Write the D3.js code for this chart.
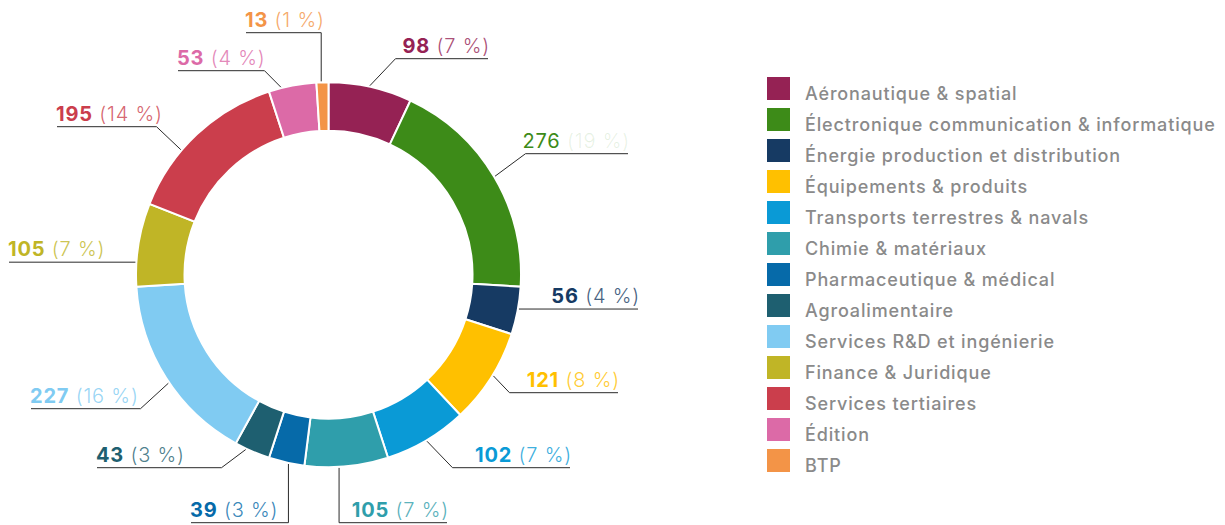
<!DOCTYPE html>
<html><head><meta charset="utf-8">
<script src="https://cdn.jsdelivr.net/npm/d3@7"></script>
<style>
html,body{margin:0;padding:0;background:#fff;}
svg{display:block;font-family:Inter,"Open Sans",sans-serif;}
</style></head>
<body>
<svg id="chart" width="1225" height="525"></svg>
<script>
const categories = ["Aéronautique & spatial","Électronique communication & informatique","Énergie production et distribution","Équipements & produits","Transports terrestres & navals","Chimie & matériaux","Pharmaceutique & médical","Agroalimentaire","Services R&D et ingénierie","Finance & Juridique","Services tertiaires","Édition","BTP"];
const counts = [98,276,56,121,102,105,39,43,227,105,195,53,13];
const percents = [7,19,4,8,7,7,3,3,16,7,14,4,1];
const colors = ["#952254","#3d8b18","#163a63","#ffc000","#0a9ad6","#2f9eab","#066aa9","#1e5f70","#80cbf2","#c0b526","#cb3e4c","#dc6aa7","#f39447"];

// label layout: t = position within slice for leader start, elbow offset from center ("v" = vertical), end x, side
const leaderLayout = [
  {t:0.49, ex:67, ey:-216, end:488, side:"r"},
  {t:0.5, ex:197, ey:-121, end:628, side:"r", faint:true},
  {t:0.46, ex:null, ey:null, end:638, side:"r"},
  {t:0.47, ex:181, ey:118, end:618, side:"r"},
  {t:0.5, ex:124, ey:193, end:570, side:"r"},
  {t:0.59, ex:"v", ey:248, end:447, side:"r"},
  {t:0.44, ex:"v", ey:248, end:191, side:"l"},
  {t:0.68, ex:-107, ey:193, end:97, side:"l"},
  {t:0.47, ex:-188, ey:134, end:31, side:"l"},
  {t:0.29, ex:null, ey:null, end:9, side:"l"},
  {t:0.37, ex:-172, ey:-148, end:57, side:"l"},
  {t:0.26, ex:-64, ey:-204, end:178, side:"l"},
  {t:0.4, ex:"v", ey:-242, end:246, side:"l"}
];

const svg = d3.select("#chart");
const cx = 328.5, cy = 274.7, rOuter = 192.5, rInner = 144;
const g = svg.append("g").attr("transform",`translate(${cx},${cy})`);

const pie = d3.pie().sort(null).value(d=>d)(percents);
const arc = d3.arc().innerRadius(rInner).outerRadius(rOuter);

g.selectAll("path.slice").data(pie).join("path")
  .attr("class","slice")
  .attr("d",arc)
  .attr("fill",(d,i)=>colors[i])
  .attr("stroke","#fff").attr("stroke-width",2);

// leaders and labels
pie.forEach((d,i)=>{
  const L = leaderLayout[i];
  const a = d.startAngle + (d.endAngle-d.startAngle)*L.t;
  const r0 = rOuter + 1;
  const sx = r0*Math.sin(a), sy = -r0*Math.cos(a);
  let pts = [[sx,sy]];
  let ly;
  if (L.ex === null) { ly = sy; }
  else if (L.ex === "v") { pts.push([sx, L.ey]); ly = L.ey; }
  else { pts.push([L.ex, L.ey]); ly = L.ey; }
  pts.push([L.end - cx, ly]);
  g.append("path")
    .attr("d", d3.line()(pts))
    .attr("fill","none").attr("stroke","#2a2a2a").attr("stroke-width",1);
  const t = g.append("text")
    .attr("x", L.end - cx + (L.side==="r"? 2 : -1))
    .attr("y", ly - 6)
    .attr("text-anchor", L.side==="r" ? "end" : "start")
    .attr("font-size", 20)
    .attr("letter-spacing", 0.8)
    .attr("fill", colors[i]);
  t.append("tspan").attr("font-weight", L.faint ? 400 : 700).text(counts[i]);
  t.append("tspan").attr("font-weight",300)
    .attr("fill-opacity", L.faint ? 0.12 : 0.8)
    .text(" (" + percents[i] + " %)");
});

// legend
const legend = svg.append("g").attr("transform","translate(767,77)");
const row = d3.scaleBand().domain(d3.range(categories.length)).range([0, 31*categories.length]);
const items = legend.selectAll("g").data(categories).join("g")
  .attr("transform",(d,i)=>`translate(0,${row(i)})`);
items.append("rect").attr("width",23).attr("height",23).attr("fill",(d,i)=>colors[i]);
items.append("text").attr("x",38).attr("y",23)
  .attr("font-size",18).attr("font-weight",500).attr("letter-spacing",0.85).attr("fill","#8a8a8a")
  .text(d=>d);
</script>
</body></html>
